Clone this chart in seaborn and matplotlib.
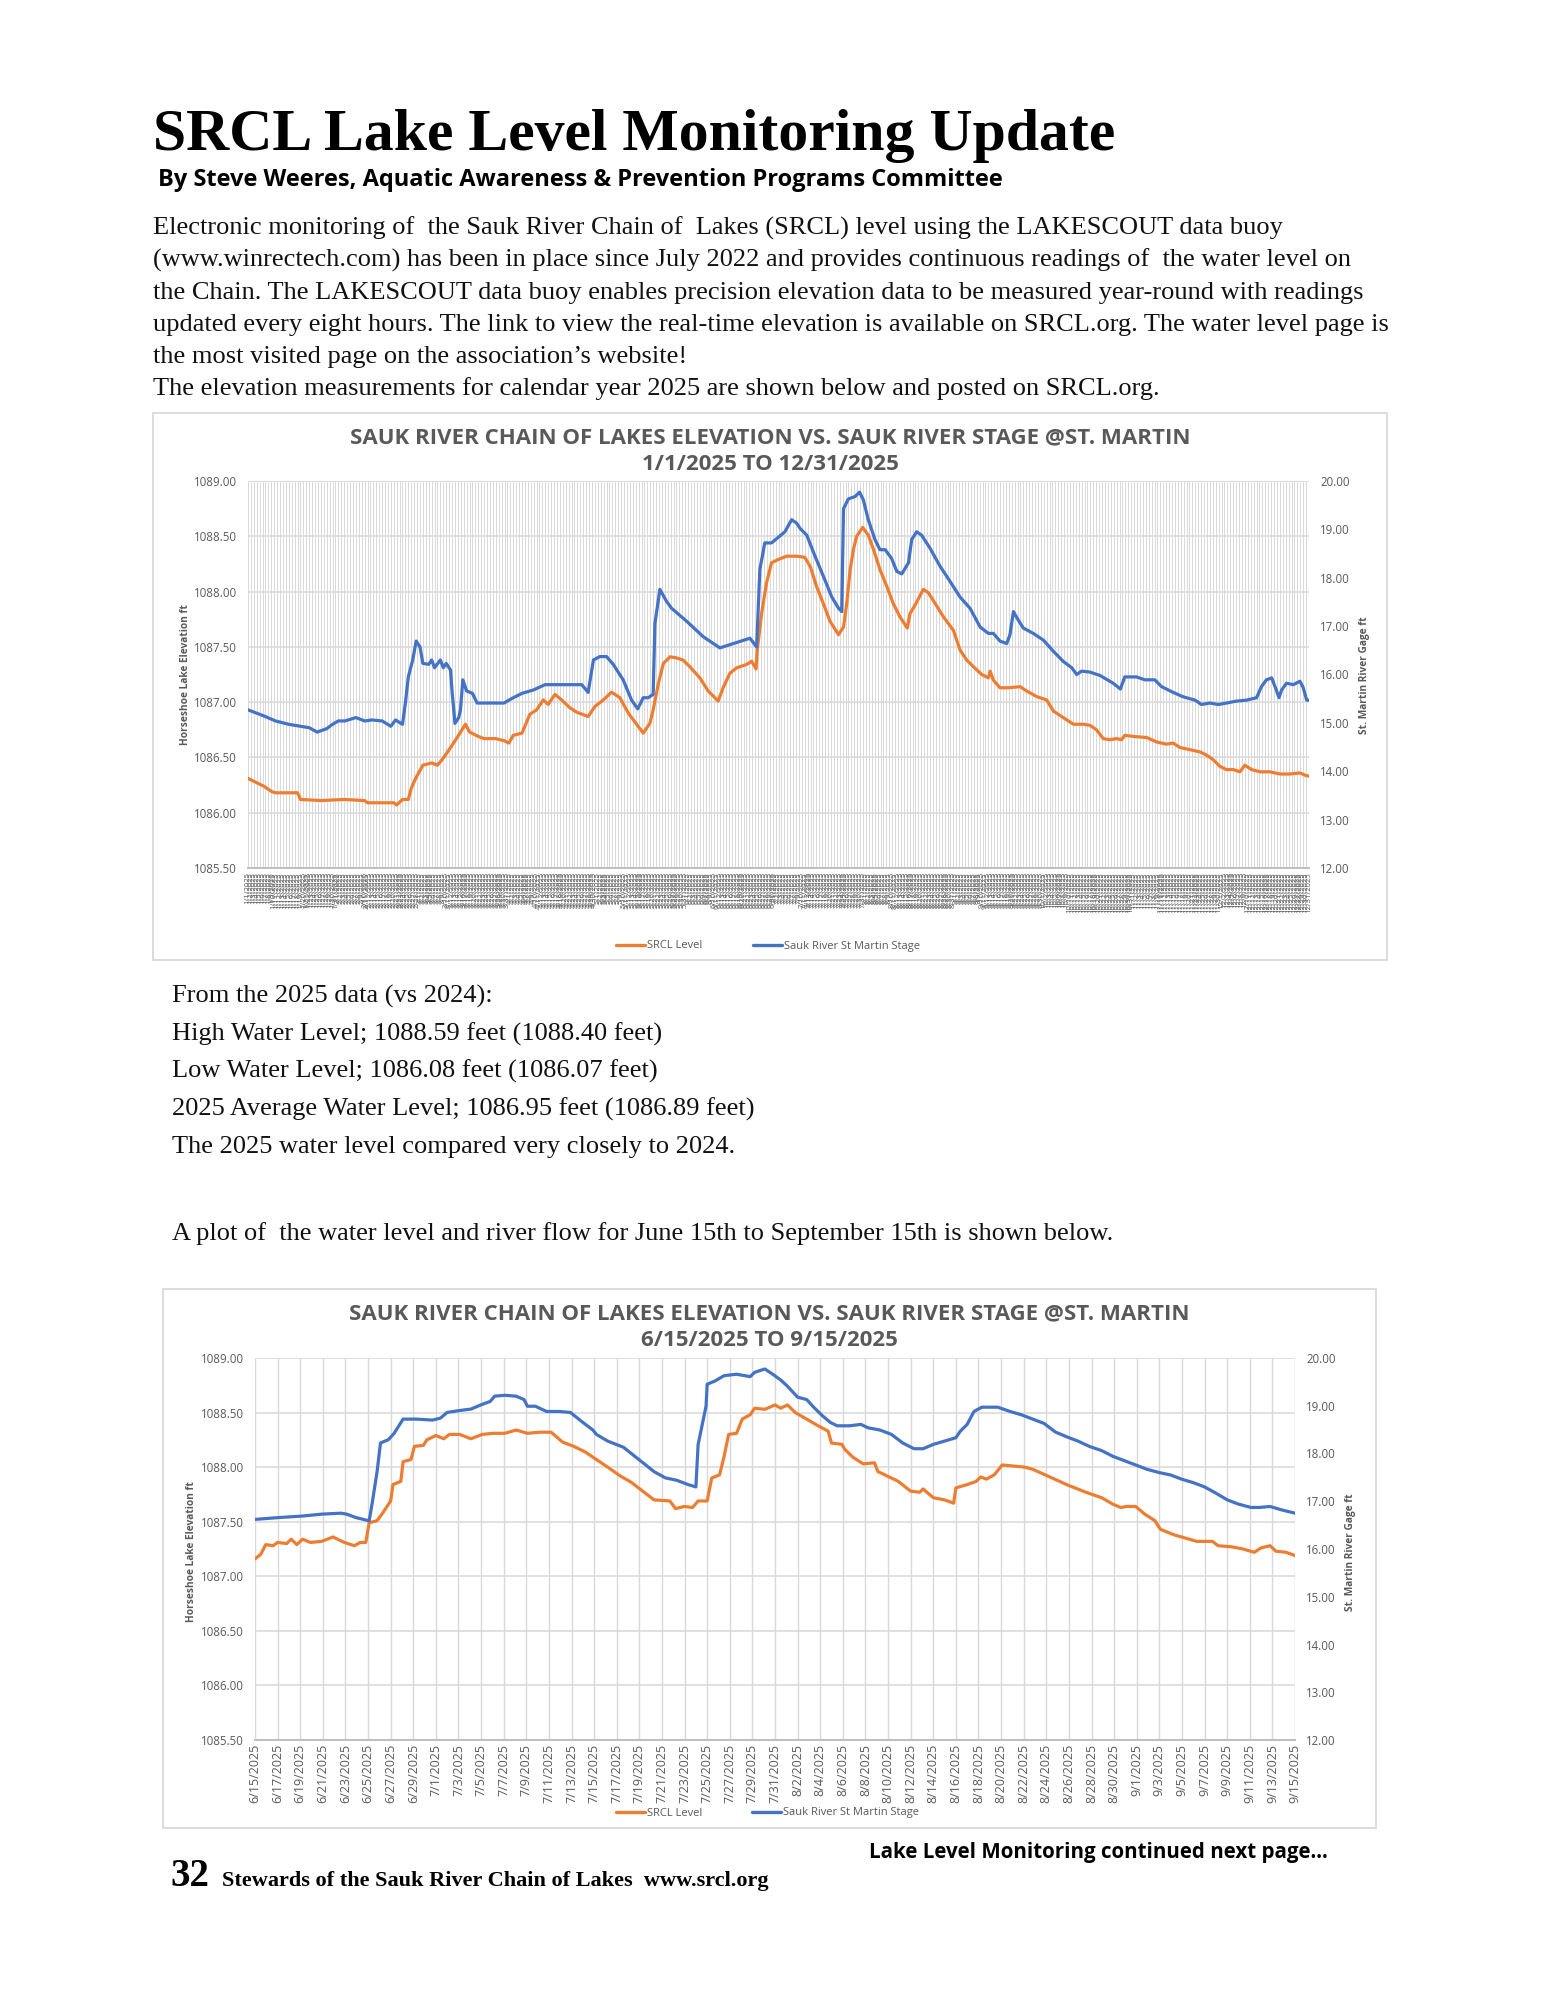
import numpy as np
import pandas as pd
import matplotlib
matplotlib.use("Agg")
import matplotlib.pyplot as plt
import seaborn as sns
from matplotlib.patches import Rectangle
from matplotlib.lines import Line2D
from matplotlib.ticker import FormatStrFormatter

# ---------------- DATA ----------------
# Chart 1: full year, x = days since 1/1/2025
year_srcl_day = [0, 3.1, 5.4, 8.2, 9.5, 17, 18, 25, 33, 40, 41, 50, 51, 53, 55, 56, 57.5, 60, 63, 65,
                 66.6, 69, 72, 74.6, 76, 79, 81, 85, 88, 89.5, 91, 94, 96.7, 99, 101.3, 103, 105.3, 107.6,
                 110.4, 112.7, 116.7, 119, 121.9, 124.7, 127.6, 130.5, 133.3, 135.6, 137.9, 139, 140.8,
                 142.5, 144.8, 147, 149.3, 151.6, 155, 157.9, 161.3, 163, 165.3, 167.6, 171, 172.8, 174.3,
                 174.7, 176.2, 177.9, 179.6, 181.9, 184.8, 188.2, 191, 193, 195, 197.4, 199.7, 202.6, 204.3,
                 205.4, 206.6, 207.7, 208.8, 210.9, 212.8, 214.6, 216.8, 219.1, 221.4, 223.7, 226.2, 227.1,
                 228.9, 231.7, 233.4, 235.1, 238.6, 242.0, 244.3, 246.6, 248.9, 251.7, 254.0, 254.6, 255.7,
                 258.0, 260.9, 264.9, 267.2, 270.6, 274.0, 276.3, 279.7, 283.2, 286.6, 288.9, 291.1, 293.4,
                 295.7, 298, 299.7, 300.8, 303.7, 308.3, 311.7, 315.1, 317.4, 319.7, 323.1, 326.6, 328.9,
                 331.1, 333.4, 335.7, 338, 340.3, 342, 344.3, 347.2, 350.6, 354, 357.4, 360.9, 362.6, 364]
year_srcl_ft = [1086.31, 1086.27, 1086.24, 1086.19, 1086.18, 1086.18, 1086.12, 1086.11, 1086.12, 1086.11,
                1086.09, 1086.09, 1086.07, 1086.12, 1086.12, 1086.22, 1086.31, 1086.43, 1086.45, 1086.43,
                1086.48, 1086.57, 1086.69, 1086.80, 1086.73, 1086.69, 1086.67, 1086.67, 1086.65, 1086.63,
                1086.70, 1086.72, 1086.89, 1086.93, 1087.02, 1086.98, 1087.07, 1087.02, 1086.95, 1086.91,
                1086.87, 1086.96, 1087.02, 1087.09, 1087.04, 1086.90, 1086.80, 1086.72, 1086.81, 1086.93,
                1087.17, 1087.35, 1087.41, 1087.40, 1087.38, 1087.32, 1087.22, 1087.10, 1087.01, 1087.13,
                1087.26, 1087.31, 1087.34, 1087.37, 1087.30, 1087.47, 1087.80, 1088.08, 1088.26, 1088.29,
                1088.32, 1088.32, 1088.31, 1088.22, 1088.05, 1087.89, 1087.73, 1087.61, 1087.68, 1087.89,
                1088.20, 1088.38, 1088.50, 1088.58, 1088.51, 1088.38, 1088.20, 1088.05, 1087.89, 1087.77,
                1087.67, 1087.80, 1087.88, 1088.02, 1087.99, 1087.92, 1087.77, 1087.65, 1087.47, 1087.38,
                1087.32, 1087.25, 1087.22, 1087.28, 1087.20, 1087.13, 1087.13, 1087.14, 1087.10, 1087.05,
                1087.02, 1086.92, 1086.86, 1086.80, 1086.80, 1086.79, 1086.75, 1086.67, 1086.66, 1086.67,
                1086.66, 1086.70, 1086.69, 1086.68, 1086.64, 1086.62, 1086.63, 1086.59, 1086.57, 1086.55,
                1086.52, 1086.48, 1086.42, 1086.39, 1086.39, 1086.37, 1086.43, 1086.39, 1086.37, 1086.37,
                1086.35, 1086.35, 1086.36, 1086.34, 1086.33]

year_stage_day = [0, 6, 9.4, 14, 21, 23.7, 27, 29, 31, 33.3, 37, 40, 42.5, 46, 49, 50.6, 53, 54, 55, 56.5,
                  57.7, 59, 60, 62, 63, 64, 66, 67, 68, 69.5, 70, 71, 72.3, 72.9, 73.7, 75, 77, 78.6, 82.6,
                  87.8, 91, 94, 97.9, 101.9, 114.5, 116.7, 118.5, 120.7, 123, 125.3, 128.7, 131.6, 133.7,
                  135.6, 137.3, 139, 139.6, 141.3, 143.6, 145.3, 150.5, 156.2, 161.9, 166.5, 172.2, 174.5,
                  175.6, 177.3, 179.6, 181.4, 184.2, 186.5, 188.2, 189.4, 191.7, 194.5, 197.4, 200.3, 202.6,
                  203.7, 204.3, 206, 208.3, 209.8, 211.1, 212.8, 215.1, 216.8, 218.6, 220.8, 222.6, 224.3,
                  226.6, 227.7, 229.4, 231.1, 234, 237.4, 240.9, 244.3, 247.7, 251.2, 254, 255.7, 258, 260.3,
                  261.4, 262.6, 264.3, 266, 269.4, 272.9, 276.3, 279.7, 282.6, 284.3, 286, 288.8, 292.3,
                  296.8, 299.3, 300.8, 304.8, 307.7, 311.1, 313.4, 317.4, 320.8, 324.9, 327.1, 330, 332.9,
                  335.7, 339.1, 342.6, 346, 347.7, 349.4, 351.2, 352.9, 353.7, 354.6, 356.3, 358.6, 360.9,
                  362, 363.2, 364]
year_stage_ft = [15.27, 15.13, 15.04, 14.97, 14.90, 14.81, 14.88, 14.97, 15.04, 15.04, 15.11, 15.04, 15.06,
                 15.04, 14.93, 15.06, 14.97, 15.41, 15.95, 16.30, 16.69, 16.57, 16.23, 16.21, 16.30, 16.14,
                 16.30, 16.14, 16.23, 16.09, 15.66, 14.99, 15.11, 15.27, 15.89, 15.66, 15.61, 15.41, 15.41,
                 15.41, 15.52, 15.61, 15.68, 15.79, 15.79, 15.63, 16.30, 16.37, 16.37, 16.21, 15.89, 15.47,
                 15.29, 15.52, 15.52, 15.59, 17.05, 17.76, 17.51, 17.37, 17.10, 16.78, 16.55, 16.64, 16.75,
                 16.57, 18.17, 18.72, 18.72, 18.81, 18.95, 19.20, 19.13, 19.02, 18.88, 18.45, 18.03, 17.60,
                 17.37, 17.30, 19.43, 19.63, 19.68, 19.77, 19.61, 19.20, 18.79, 18.58, 18.58, 18.40, 18.13,
                 18.08, 18.31, 18.79, 18.95, 18.88, 18.61, 18.24, 17.92, 17.60, 17.37, 16.98, 16.85, 16.85,
                 16.69, 16.64, 16.82, 17.30, 17.12, 16.96, 16.85, 16.71, 16.48, 16.27, 16.14, 16.00, 16.07,
                 16.05, 15.98, 15.82, 15.70, 15.95, 15.95, 15.89, 15.89, 15.75, 15.63, 15.54, 15.47, 15.38,
                 15.41, 15.38, 15.41, 15.45, 15.47, 15.52, 15.75, 15.89, 15.93, 15.66, 15.52, 15.68, 15.82,
                 15.79, 15.86, 15.73, 15.47, 15.47]

# Chart 2: summer, x = days since 6/15/2025
summer_srcl_day = [0, 0.5, 0.95, 1.6, 2.0, 2.8, 3.2, 3.7, 4.2, 4.9, 5.9, 6.9, 7.9, 8.8, 9.3, 9.8, 10.1, 10.8,
                   11.3, 12.0, 12.2, 12.9, 13.1, 13.8, 14.1, 14.9, 15.2, 16.0, 16.7, 17.2, 18.1, 19.1, 20.1,
                   21.1, 22.1, 23.1, 24.1, 25.2, 26.2, 27.2, 28.2, 29.2, 30.2, 31.2, 32.3, 33.3, 34.3, 35.3,
                   36.7, 37.2, 38.0, 38.7, 39.2, 40.0, 40.4, 41.1, 41.5, 41.9, 42.6, 43.1, 43.8, 44.2, 45.1,
                   46.0, 46.5, 47.1, 47.8, 48.8, 49.8, 50.7, 51.0, 51.9, 52.2, 52.9, 53.8, 54.8, 55.1, 55.9,
                   56.9, 58.0, 58.8, 59.1, 60.0, 61.0, 61.8, 62.0, 63.0, 63.8, 64.2, 64.7, 65.4, 66.1, 67.1,
                   68.1, 68.8, 70.1, 71.8, 73.5, 74.9, 75.9, 76.6, 77.1, 77.9, 78.7, 79.6, 80.1, 81.3, 82.3,
                   83.3, 84.7, 85.2, 86.4, 87.4, 88.4, 89.0, 89.8, 90.3, 91.2, 92.0]
summer_srcl_ft = [1087.16, 1087.20, 1087.29, 1087.28, 1087.31, 1087.30, 1087.34, 1087.29, 1087.34, 1087.31,
                  1087.32, 1087.36, 1087.31, 1087.28, 1087.31, 1087.31, 1087.49, 1087.51, 1087.58, 1087.69,
                  1087.84, 1087.87, 1088.05, 1088.07, 1088.19, 1088.20, 1088.25, 1088.29, 1088.26, 1088.30,
                  1088.30, 1088.26, 1088.30, 1088.31, 1088.31, 1088.34, 1088.31, 1088.32, 1088.32, 1088.23,
                  1088.19, 1088.14, 1088.07, 1088.00, 1087.92, 1087.86, 1087.78, 1087.70, 1087.69, 1087.62,
                  1087.64, 1087.63, 1087.69, 1087.69, 1087.90, 1087.93, 1088.10, 1088.30, 1088.31, 1088.44,
                  1088.48, 1088.54, 1088.53, 1088.57, 1088.54, 1088.57, 1088.50, 1088.44, 1088.38, 1088.33,
                  1088.22, 1088.21, 1088.16, 1088.09, 1088.03, 1088.04, 1087.96, 1087.92, 1087.87, 1087.78,
                  1087.77, 1087.80, 1087.72, 1087.70, 1087.67, 1087.81, 1087.84, 1087.87, 1087.91, 1087.89,
                  1087.93, 1088.02, 1088.01, 1088.00, 1087.98, 1087.92, 1087.84, 1087.77, 1087.72, 1087.66,
                  1087.63, 1087.64, 1087.64, 1087.57, 1087.51, 1087.43, 1087.38, 1087.35, 1087.32, 1087.32,
                  1087.28, 1087.27, 1087.25, 1087.22, 1087.26, 1087.28, 1087.23, 1087.22, 1087.19]

summer_stage_day = [0, 2.2, 4.2, 5.9, 7.6, 8.1, 8.9, 10.1, 10.4, 10.8, 11.1, 11.8, 12.3, 13.1, 14.3, 15.7,
                    16.4, 17.0, 18.1, 19.1, 20.0, 20.8, 21.2, 22.1, 23.1, 23.8, 24.1, 24.8, 25.8, 26.9, 27.9,
                    28.9, 29.9, 30.2, 31.2, 32.6, 33.6, 34.3, 35.3, 36.3, 37.3, 38.3, 39.0, 39.2, 39.9, 40.0,
                    40.7, 41.5, 42.6, 43.8, 44.2, 45.1, 45.8, 46.5, 47.1, 48.0, 48.8, 49.5, 50.2, 50.9, 51.5,
                    52.6, 53.6, 54.2, 55.3, 56.3, 57.3, 58.3, 59.1, 60.0, 61.0, 62.0, 62.4, 63.0, 63.6, 64.3,
                    65.7, 66.8, 67.8, 68.8, 69.8, 70.8, 71.8, 72.8, 73.8, 74.9, 75.9, 76.9, 77.9, 78.9, 80.0,
                    81.0, 82.0, 83.0, 84.0, 85.0, 86.0, 87.0, 88.1, 88.8, 89.8, 90.8, 92.0]
summer_stage_ft = [16.62, 16.66, 16.69, 16.73, 16.75, 16.73, 16.66, 16.59, 17.01, 17.62, 18.22, 18.29, 18.42,
                   18.72, 18.72, 18.70, 18.74, 18.86, 18.90, 18.93, 19.02, 19.09, 19.20, 19.22, 19.20, 19.13,
                   18.99, 18.99, 18.88, 18.88, 18.86, 18.67, 18.49, 18.40, 18.26, 18.13, 17.94, 17.81, 17.62,
                   17.49, 17.44, 17.35, 17.30, 18.19, 18.99, 19.45, 19.52, 19.63, 19.66, 19.61, 19.70, 19.77,
                   19.66, 19.54, 19.41, 19.18, 19.13, 18.95, 18.79, 18.65, 18.58, 18.58, 18.61, 18.54, 18.49,
                   18.40, 18.22, 18.10, 18.10, 18.19, 18.26, 18.33, 18.47, 18.61, 18.88, 18.97, 18.97, 18.88,
                   18.81, 18.72, 18.63, 18.45, 18.35, 18.26, 18.15, 18.06, 17.94, 17.85, 17.76, 17.67, 17.60,
                   17.55, 17.46, 17.39, 17.30, 17.17, 17.03, 16.94, 16.87, 16.87, 16.89, 16.82, 16.75]

year_days = pd.date_range("2025-01-01", "2025-12-31", freq="D")
year_tick_labels = [f"{d.month}/{d.day}/{d.year}" for d in year_days]
summer_tick_labels = [f"{d.month}/{d.day}/{d.year}" for d in pd.date_range("2025-06-15", "2025-09-15", freq="2D")]

lake_ticks = [1085.5, 1086.0, 1086.5, 1087.0, 1087.5, 1088.0, 1088.5, 1089.0]
stage_ticks = [12, 13, 14, 15, 16, 17, 18, 19, 20]

# ---------------- STYLE ----------------
sns.set_theme(style="white")
plt.rcParams["font.family"] = ["Open Sans", "DejaVu Sans"]

ORANGE = "#ED7D31"
BLUE = "#4472C4"
GRAY = "#595959"
GRID = "#D9D9D9"

W, H = 1545, 2000
fig = plt.figure(figsize=(W / 100, H / 100), dpi=100)
fig.patch.set_facecolor("white")


def fx(px):
    return px / W


def fy(py):
    return 1 - py / H


SERIF = ["Liberation Serif", "DejaVu Serif"]
SANS = ["Open Sans", "DejaVu Sans"]
BODY_FS = 19

# ---------------- PAGE TEXT ----------------
fig.text(fx(153), fy(150), "SRCL Lake Level Monitoring Update", family=SERIF, weight="bold",
         fontsize=43, color="black", va="baseline", ha="left")
fig.text(fx(158), fy(186), "By Steve Weeres, Aquatic Awareness & Prevention Programs Committee",
         family=SANS, weight="bold", fontsize=17, color="black", va="baseline", ha="left")

para = [
    "Electronic monitoring of  the Sauk River Chain of  Lakes (SRCL) level using the LAKESCOUT data buoy",
    "(www.winrectech.com) has been in place since July 2022 and provides continuous readings of  the water level on",
    "the Chain. The LAKESCOUT data buoy enables precision elevation data to be measured year-round with readings",
    "updated every eight hours. The link to view the real-time elevation is available on SRCL.org. The water level page is",
    "the most visited page on the association\u2019s website!",
    "The elevation measurements for calendar year 2025 are shown below and posted on SRCL.org.",
]
for i, line in enumerate(para):
    fig.text(fx(153), fy(235 + i * 32), line, family=SERIF, fontsize=BODY_FS, color="#111111",
             va="baseline", ha="left")

stats = [
    "From the 2025 data (vs 2024):",
    "High Water Level; 1088.59 feet (1088.40 feet)",
    "Low Water Level; 1086.08 feet (1086.07 feet)",
    "2025 Average Water Level; 1086.95 feet (1086.89 feet)",
    "The 2025 water level compared very closely to 2024.",
]
for i, line in enumerate(stats):
    fig.text(fx(172), fy(1003 + i * 37.5), line, family=SERIF, fontsize=BODY_FS, color="#111111",
             va="baseline", ha="left")
fig.text(fx(172), fy(1240), "A plot of  the water level and river flow for June 15th to September 15th is shown below.",
         family=SERIF, fontsize=BODY_FS, color="#111111", va="baseline", ha="left")

fig.text(fx(869), fy(1858), "Lake Level Monitoring continued next page...", family=SANS, weight="bold",
         fontsize=14.8, color="black", va="baseline", ha="left")
fig.text(fx(170), fy(1886), "32", family=SERIF, weight="bold", fontsize=28, color="black",
         va="baseline", ha="left")
fig.text(fx(222), fy(1886), "Stewards of the Sauk River Chain of Lakes  www.srcl.org", family=SERIF,
         weight="bold", fontsize=16, color="black", va="baseline", ha="left")


# ---------------- CHARTS ----------------
def make_chart(box, plot, title2, srcl_x, srcl_y, stage_x, stage_y, xmax, ticks, ticklabels,
               grid_lw, tick_fs, title_y, legend_y, ylab_y):
    bx0, by0, bx1, by1 = box
    fig.patches.append(Rectangle((fx(bx0), fy(by1)), (bx1 - bx0) / W, (by1 - by0) / H,
                                 transform=fig.transFigure, fill=False, ec=GRID, lw=1.3))
    px0, py0, px1, py1 = plot
    ax = fig.add_axes([fx(px0), fy(py1), (px1 - px0) / W, (py1 - py0) / H])
    ax2 = ax.twinx()

    df1 = pd.DataFrame({"x": srcl_x, "y": srcl_y})
    df2 = pd.DataFrame({"x": stage_x, "y": stage_y})
    sns.lineplot(data=df1, x="x", y="y", ax=ax, color=ORANGE, lw=2.3, estimator=None, zorder=3)
    sns.lineplot(data=df2, x="x", y="y", ax=ax2, color=BLUE, lw=2.3, estimator=None, zorder=3)

    ax.set_xlim(0, xmax)
    ax.set_ylim(1085.5, 1089.0)
    ax2.set_ylim(12, 20)
    ax.set_yticks(lake_ticks)
    ax2.set_yticks(stage_ticks)
    ax.yaxis.set_major_formatter(FormatStrFormatter("%.2f"))
    ax2.yaxis.set_major_formatter(FormatStrFormatter("%.2f"))
    ax.set_xticks(ticks)
    ax.set_xticklabels(ticklabels, rotation=90, fontsize=tick_fs, color=GRAY)
    ax.set_xlabel("")
    ax.set_ylabel("")
    ax2.set_ylabel("")

    ax.grid(axis="y", color=GRID, lw=1.1, zorder=0)
    ax.grid(axis="x", color=GRID, lw=grid_lw, zorder=0)
    ax2.grid(False)
    ax.set_axisbelow(True)
    for a in (ax, ax2):
        for s in ("top", "left", "right"):
            a.spines[s].set_visible(False)
        a.spines["bottom"].set_color("#BFBFBF")
        a.spines["bottom"].set_linewidth(1.4)
    ax.tick_params(axis="y", length=0, labelsize=8.3, labelcolor=GRAY, pad=8)
    ax2.tick_params(axis="y", length=0, labelsize=8.3, labelcolor=GRAY, pad=8)
    ax.tick_params(axis="x", length=0, pad=3)
    ax.patch.set_alpha(0)

    cx = (bx0 + bx1) / 2
    fig.text(fx(cx), fy(title_y), "SAUK RIVER CHAIN OF LAKES ELEVATION VS. SAUK RIVER STAGE @ST. MARTIN",
             family=SANS, weight="bold", fontsize=16, color=GRAY, ha="center", va="baseline")
    fig.text(fx(cx), fy(title_y + 27), title2, family=SANS, weight="bold", fontsize=16, color=GRAY,
             ha="center", va="baseline")
    fig.text(fx(px0 - 63), fy(ylab_y), "Horseshoe Lake Elevation ft", family=SANS, weight="bold",
             fontsize=7.3, color=GRAY, rotation=90, ha="center", va="center")
    fig.text(fx(px1 + 55), fy(ylab_y), "St. Martin River Gage ft", family=SANS, weight="bold",
             fontsize=7.3, color=GRAY, rotation=90, ha="center", va="center")

    handles = [Line2D([], [], color=ORANGE, lw=2.4), Line2D([], [], color=BLUE, lw=2.4)]
    fig.legend(handles, ["SRCL Level", "Sauk River St Martin Stage"], loc="center",
               bbox_to_anchor=(fx(cx - 2), fy(legend_y)), ncol=2, frameon=False, fontsize=8,
               labelcolor=GRAY, handlelength=2.6, handletextpad=0.2, columnspacing=4.5)
    return ax, ax2


make_chart(box=(153, 413, 1387, 960), plot=(248, 481, 1309, 868), title2="1/1/2025 TO 12/31/2025",
           srcl_x=year_srcl_day, srcl_y=year_srcl_ft, stage_x=year_stage_day, stage_y=year_stage_ft,
           xmax=364, ticks=list(range(len(year_days))), ticklabels=year_tick_labels,
           grid_lw=0.7, tick_fs=5.5, title_y=443, legend_y=946, ylab_y=675)

make_chart(box=(163, 1289, 1376, 1828), plot=(255, 1358, 1295, 1740), title2="6/15/2025 TO 9/15/2025",
           srcl_x=summer_srcl_day, srcl_y=summer_srcl_ft, stage_x=summer_stage_day, stage_y=summer_stage_ft,
           xmax=92, ticks=list(range(0, 93, 2)), ticklabels=summer_tick_labels,
           grid_lw=1.0, tick_fs=9, title_y=1319, legend_y=1813, ylab_y=1552)

fig.savefig("out.png", dpi=100, facecolor="white")
